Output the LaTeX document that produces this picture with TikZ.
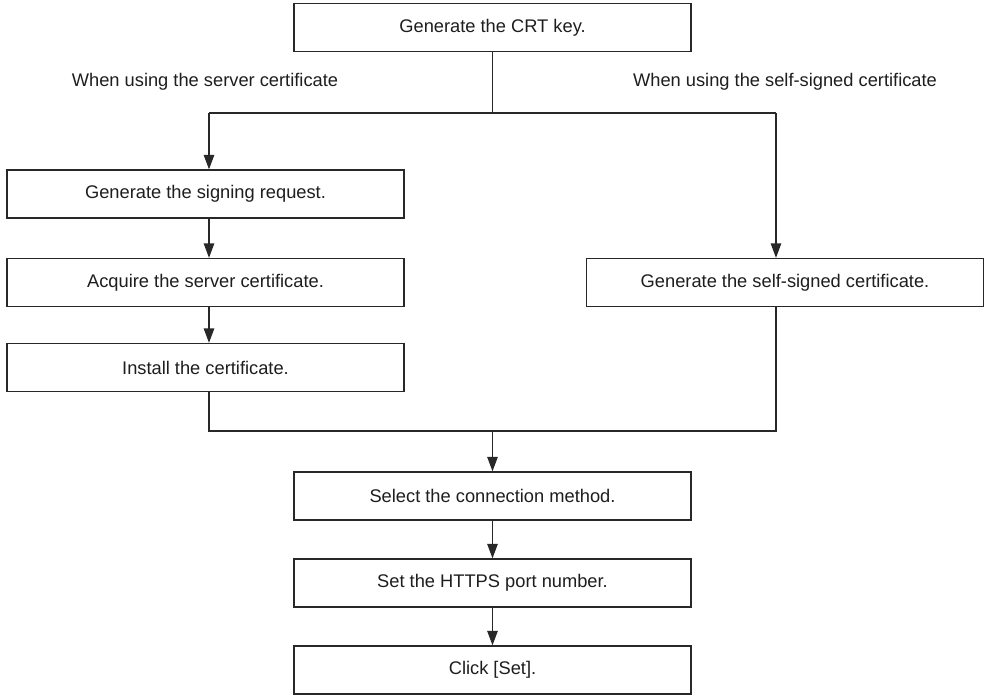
\documentclass[tikz,border=0pt]{standalone}
\usepackage{fontspec}
\setmainfont{Liberation Sans}
\usepackage{xcolor}
\definecolor{flowline}{RGB}{40,40,40}
\definecolor{flowtext}{RGB}{30,30,30}
\usepackage{tikz}
\usetikzlibrary{arrows.meta, positioning, calc}

\begin{document}
\begin{tikzpicture}[x=0.025cm, y=-0.025cm,
    stepbox/.style={draw=flowline, line width=0.9pt, fill=white, text=flowtext,
      minimum width=9.925cm, minimum height=1.2cm, inner sep=0pt,
      font=\fontsize{13}{15}\selectfont},
    branchlabel/.style={text=flowtext, inner sep=0pt, font=\fontsize{13}{15}\selectfont},
    flow/.style={draw=flowline, line width=0.9pt},
    flowarrow/.style={flow, -{Triangle[length=3.6mm, width=2.6mm]}}]
  \useasboundingbox (0,0) rectangle (988,695);
  % top step
  \node[stepbox] (crtkey) at (492.5,27.5) {Generate the CRT key.};
  % branch labels
  \node[branchlabel] (srvlabel) at (205,82) {When using the server certificate};
  \node[branchlabel] (selflabel) at (785,82) {When using the self-signed certificate};
  % left branch: server certificate
  \node[stepbox] (signreq) at (205.5,194) {Generate the signing request.};
  \node[stepbox] (acquire) at (205.5,282.5) {Acquire the server certificate.};
  \node[stepbox] (install) at (205.5,367.5) {Install the certificate.};
  % right branch: self-signed certificate
  \node[stepbox] (selfsign) at (785,282.5) {Generate the self-signed certificate.};
  % common steps
  \node[stepbox] (connmethod) at (492.5,496) {Select the connection method.};
  \node[stepbox] (httpsport) at (492.5,583) {Set the HTTPS port number.};
  \node[stepbox] (clickset) at (492.5,670) {Click [Set].};

  % split and merge points
  \coordinate (split) at (crtkey.south |- 0,113);
  \coordinate (splitleft) at (209,113);
  \coordinate (splitright) at (776,113);
  \coordinate (mergeleft) at (209,431);
  \coordinate (mergeright) at (776,431);
  \coordinate (merge) at (connmethod.north |- 0,431);

  % connectors
  \draw[flow] (crtkey.south) -- (split);
  \draw[flow] (splitleft) -- (splitright);
  \draw[flowarrow] (splitleft) -- (splitleft |- signreq.north);
  \draw[flowarrow] (splitright) -- (splitright |- selfsign.north);
  \draw[flowarrow] (signreq.south -| splitleft) -- (acquire.north -| splitleft);
  \draw[flowarrow] (acquire.south -| splitleft) -- (install.north -| splitleft);
  \draw[flow] (install.south -| mergeleft) -- (mergeleft) -- (mergeright) -- (selfsign.south -| mergeright);
  \draw[flowarrow] (merge) -- (connmethod.north);
  \draw[flowarrow] (connmethod.south) -- (httpsport.north);
  \draw[flowarrow] (httpsport.south) -- (clickset.north);
\end{tikzpicture}
\end{document}
